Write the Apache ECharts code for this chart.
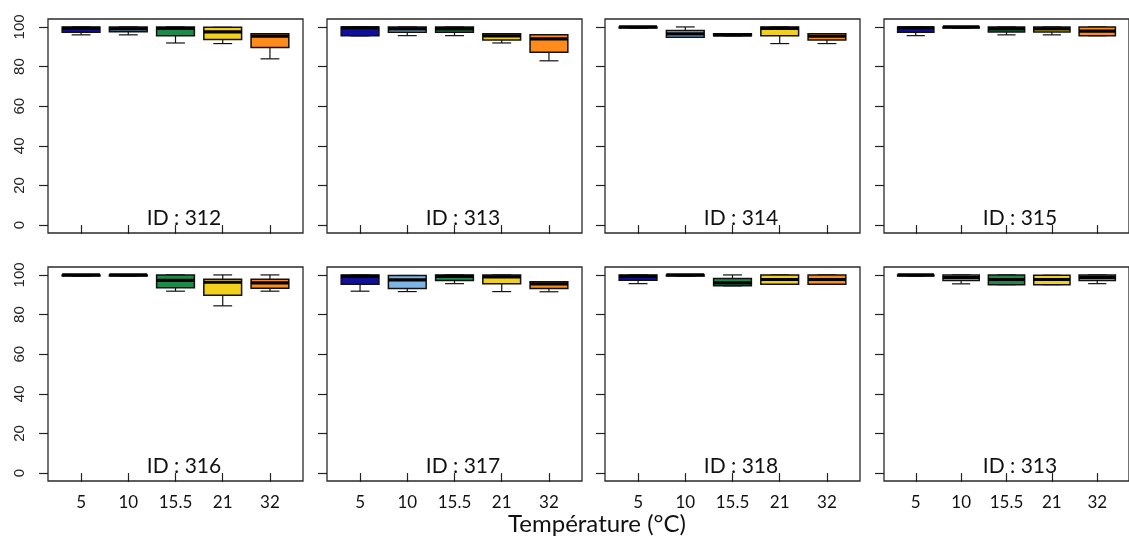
<!DOCTYPE html>
<html>
<head>
<meta charset="utf-8">
<script src="https://cdn.jsdelivr.net/npm/echarts@6/dist/echarts.min.js"></script>
<style>html,body{margin:0;padding:0;background:#fff;}#chart{width:1129px;height:540px;}</style>
</head>
<body>
<div id="chart"></div>
<script>
// ---- data ----
const categories = ['5', '10', '15.5', '21', '32'];
const categoryColors = ['#10109A', '#7FB3E6', '#1B8A4C', '#F2D01C', '#FF8C1A'];
const yTickValues = [0, 20, 40, 60, 80, 100];
const panelLabels = ['ID : 312', 'ID : 313', 'ID : 314', 'ID : 315', 'ID : 316', 'ID : 317', 'ID : 318', 'ID : 313'];
const xTitle = 'Température (°C)';
// each row: [min, Q1, median, Q3, max] per temperature
const id312 = [[96.0, 97.3, 99.3, 100, 100], [96.0, 97.6, 99.0, 100, 100], [91.9, 95.6, 99.2, 100, 100], [91.6, 93.6, 97.5, 99.8, 99.8], [83.9, 89.6, 95.4, 96.5, 96.5]];
const id313 = [[95.5, 95.5, 99.5, 100, 100], [95.6, 97.3, 99.0, 100, 100], [95.6, 97.3, 99.0, 100, 100], [91.9, 93.4, 95.5, 96.6, 96.6], [82.9, 87.2, 94.0, 96.1, 96.1]];
const id314 = [[99.4, 99.4, 100, 100, 100], [94.8, 94.8, 96.5, 98.2, 100], [95.5, 95.5, 96.0, 96.5, 96.5], [91.6, 95.5, 99.3, 100, 100], [91.6, 93.4, 95.3, 96.6, 96.6]];
const id315 = [[95.6, 97.3, 99.5, 100, 100], [99.4, 99.4, 100, 100, 100], [96.0, 97.5, 99.0, 100, 100], [96.0, 97.5, 99.0, 100, 100], [95.6, 95.6, 97.9, 100, 100]];
const id316 = [[99.4, 99.4, 100, 100, 100], [99.4, 99.4, 100, 100, 100], [91.8, 93.5, 97.3, 100, 100], [84.4, 89.8, 96.3, 97.8, 100], [91.8, 93.3, 96.0, 97.8, 100]];
const id317 = [[91.8, 95.3, 99.3, 100, 100], [91.6, 93.1, 97.5, 99.7, 99.7], [95.6, 97.2, 99.3, 100, 100], [91.6, 95.6, 99.0, 100, 100], [91.5, 93.1, 95.5, 96.6, 96.6]];
const id318 = [[95.6, 97.3, 99.3, 100, 100], [99.4, 99.4, 100, 100, 100], [94.5, 94.5, 96.0, 98.2, 100], [95.3, 95.3, 97.7, 100, 100], [95.3, 95.3, 97.7, 100, 100]];
const id313b = [[99.4, 99.4, 100, 100, 100], [95.5, 97.2, 98.7, 100, 100], [95.1, 95.1, 97.7, 100, 100], [95.1, 95.1, 97.7, 99.8, 99.8], [95.6, 97.2, 98.8, 100, 100]];
const panelData = [id312, id313, id314, id315, id316, id317, id318, id313b];

// ---- layout ----
const panelLefts = [48, 327, 605, 884];
const rowTops = [19, 267];
const panelW = 255, panelH = 214;
const fontUI = 'Lato';
const fontAxisY = 'Liberation Sans';

const grids = [], xAxes = [], yAxes = [], series = [], graphics = [];
const xPositions = categories.map((c, i) => i + 1);

function renderBox(params, api) {
  const x = api.value(0);
  const lo = api.value(1), q1 = api.value(2), md = api.value(3), q3 = api.value(4), hi = api.value(5);
  const unit = api.size([1, 0])[0];
  const hw = unit * 0.4, sw = unit * 0.2;
  const pLo = api.coord([x, lo]), pQ1 = api.coord([x, q1]), pMd = api.coord([x, md]);
  const pQ3 = api.coord([x, q3]), pHi = api.coord([x, hi]);
  const cx = pQ1[0];
  const ls = { stroke: '#111', lineWidth: 1.2 };
  const fill = api.visual('color');
  return {
    type: 'group',
    children: [
      { type: 'line', shape: { x1: cx, y1: pHi[1], x2: cx, y2: pQ3[1] }, style: ls },
      { type: 'line', shape: { x1: cx - sw, y1: pHi[1], x2: cx + sw, y2: pHi[1] }, style: ls },
      { type: 'line', shape: { x1: cx, y1: pLo[1], x2: cx, y2: pQ1[1] }, style: ls },
      { type: 'line', shape: { x1: cx - sw, y1: pLo[1], x2: cx + sw, y2: pLo[1] }, style: ls },
      { type: 'rect', shape: { x: cx - hw, y: pQ3[1], width: 2 * hw, height: pQ1[1] - pQ3[1] }, style: { fill: fill, stroke: '#111', lineWidth: 1.5 } },
      { type: 'line', shape: { x1: cx - hw, y1: pMd[1], x2: cx + hw, y2: pMd[1] }, style: { stroke: '#000', lineWidth: 3.2 } }
    ]
  };
}

panelData.forEach((stats, p) => {
  const row = Math.floor(p / 4), col = p % 4;
  const left = panelLefts[col], top = rowTops[row];
  grids.push({ left: left, top: top, width: panelW, height: panelH, show: true, borderColor: '#2a2a2a', borderWidth: 1.3, containLabel: false });
  xAxes.push({
    type: 'value', gridIndex: p, min: 0.3, max: 5.7,
    axisLine: { show: false }, splitLine: { show: false },
    axisTick: { show: true, length: 9, customValues: xPositions, lineStyle: { color: '#222', width: 1.2 } },
    axisLabel: {
      show: row === 1, customValues: xPositions, margin: 13,
      formatter: v => categories[Math.round(v) - 1] || '',
      fontFamily: fontUI, fontSize: 17, color: '#111'
    }
  });
  yAxes.push({
    type: 'value', gridIndex: p, min: -4, max: 104,
    axisLine: { show: false }, splitLine: { show: false },
    axisTick: { show: true, length: 9, customValues: yTickValues, lineStyle: { color: '#222', width: 1.2 } },
    axisLabel: { show: false }
  });
  series.push({
    type: 'custom', xAxisIndex: p, yAxisIndex: p,
    renderItem: renderBox,
    encode: { x: 0, y: [1, 2, 3, 4, 5] },
    data: stats.map((s, i) => ({ value: [xPositions[i]].concat(s), itemStyle: { color: categoryColors[i] } })),
    silent: true, animation: false
  });
  graphics.push({
    type: 'text', x: left + 136, y: top + 199,
    style: { text: panelLabels[p], fontSize: 21, fontFamily: fontUI, fill: '#111', align: 'center', verticalAlign: 'middle' }
  });
});

graphics.push({
  type: 'text', x: 597, y: 524,
  style: { text: xTitle, fontSize: 24, fontFamily: fontUI, fill: '#111', align: 'center', verticalAlign: 'middle' }
});

const chart = echarts.init(document.getElementById('chart'), null, { renderer: 'canvas' });
chart.setOption({
  animation: false,
  backgroundColor: '#fff',
  grid: grids, xAxis: xAxes, yAxis: yAxes, series: series
});

// rotated y tick labels (R style, las = 0) on the left column, placed through the axis scale
[0, 4].forEach(p => {
  yTickValues.forEach(v => {
    const pt = chart.convertToPixel({ xAxisIndex: p, yAxisIndex: p }, [0.3, v]);
    graphics.push({
      type: 'text', x: pt[0] - 28, y: pt[1], rotation: Math.PI / 2,
      style: { text: String(v), fontSize: 15, fontFamily: fontAxisY, fill: '#222', align: 'center', verticalAlign: 'middle' }
    });
  });
});

chart.setOption({ graphic: graphics });
</script>
</body>
</html>
